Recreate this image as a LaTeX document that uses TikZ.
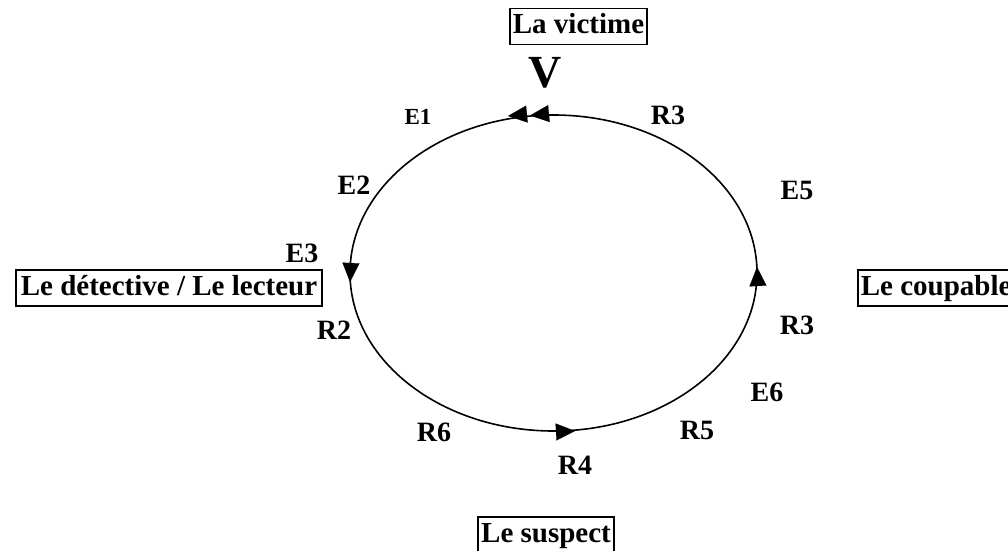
\documentclass[tikz,border=0pt]{standalone}
\usepackage{fontspec}
\setmainfont{Liberation Serif}
\usetikzlibrary{arrows.meta}
\tikzset{
  x=1pt,y=1pt,
  boxlbl/.style={draw,line width=1.6pt,inner xsep=3pt,inner ysep=5pt,text height=20pt,text depth=6pt,font=\fontsize{29}{32}\selectfont\bfseries},
  lbl/.style={inner sep=0pt,text height=19pt,text depth=0pt,font=\fontsize{28}{32}\selectfont\bfseries},
  smalllbl/.style={inner sep=0pt,text height=15.5pt,text depth=0pt,font=\fontsize{23}{26}\selectfont\bfseries},
  biglbl/.style={inner sep=0pt,text height=31pt,text depth=0pt,font=\fontsize{46}{50}\selectfont\bfseries},
  tip/.style={-{Triangle[length=19pt,width=17pt]}},
}
\begin{document}
\begin{tikzpicture}
\clip (0,0) rectangle (1008,550);
\useasboundingbox (0,0) rectangle (1008,550);
% cycle
\coordinate (c) at (553.5,277);
\draw[line width=1.6pt] (c) ellipse [x radius=203.5, y radius=158];
% arrowheads on the cycle
\coordinate (tA) at (508,434);
\coordinate (tB) at (530,434.5);
\coordinate (tL) at (350,268);
\coordinate (tR) at (757,283);
\coordinate (tD) at (575,119);
\draw[tip,line width=0.1pt] ([xshift=1pt,yshift=0.1pt]tA) -- (tA);
\draw[tip,line width=0.1pt] ([xshift=1pt,yshift=0.1pt]tB) -- (tB);
\draw[tip,line width=0.1pt] ([xshift=0.05pt,yshift=1pt]tL) -- (tL);
\draw[tip,line width=0.1pt] ([xshift=0.05pt,yshift=-1pt]tR) -- (tR);
\draw[tip,line width=0.1pt] ([xshift=-1pt,yshift=-0.05pt]tD) -- (tD);
% boxed actors
\node[boxlbl] (victime) at (578.5,523.5) {La victime};
\node[boxlbl,inner xsep=5pt] (detective) at (169,262) {Le détective / Le lecteur};
\node[boxlbl,anchor=west] (coupable) at (857,262) {Le coupable};
\node[boxlbl] (suspect) at (546,15) {Le suspect};
% letters
\node[biglbl] (V) at (545,478) {V};
\node[smalllbl] (e1) at (418,433) {E1};
\node[lbl] (r3a) at (668,435) {R3};
\node[lbl] (e2) at (354,365) {E2};
\node[lbl] (e5) at (797,360) {E5};
\node[lbl] (e3) at (302,297) {E3};
\node[lbl] (r2) at (334,220) {R2};
\node[lbl] (r3b) at (797,225) {R3};
\node[lbl] (e6) at (767,158) {E6};
\node[lbl] (r5) at (697,120) {R5};
\node[lbl] (r6) at (434,118) {R6};
\node[lbl] (r4) at (575,85) {R4};
\end{tikzpicture}
\end{document}
